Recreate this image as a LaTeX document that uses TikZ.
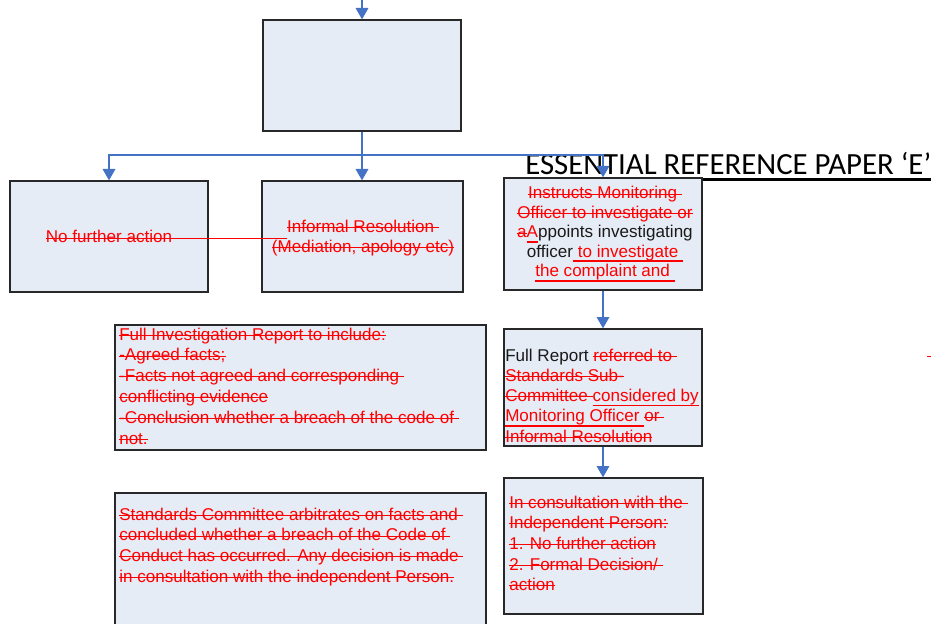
\documentclass[tikz,border=0pt]{standalone}
\usepackage{fontspec}
\setmainfont{Liberation Sans}
\newfontfamily\titlefont{Carlito}
\usetikzlibrary{arrows.meta,calc}
\definecolor{boxfill}{RGB}{230,236,246}
\definecolor{boxline}{RGB}{40,40,40}
\definecolor{connblue}{RGB}{68,114,196}
\definecolor{edred}{RGB}{255,0,0}
\definecolor{inkblack}{RGB}{25,25,25}
\newsavebox\segbox
\newcommand\strk[1]{{\color{edred}\sbox\segbox{#1}\rlap{\rule[0.25em]{\wd\segbox}{0.7pt}}\usebox\segbox}}
\newcommand\ulr[1]{{\color{edred}\sbox\segbox{#1}\rlap{\rule[-0.28em]{\wd\segbox}{1.3pt}}\usebox\segbox}}
\newcommand\tblock[3]{{\fontsize{12.8}{#1}\selectfont\begin{tabular}[t]{@{}#2@{}}#3\end{tabular}}}
\begin{document}
\begin{tikzpicture}[x=0.75pt,y=-0.75pt,
  box/.style={draw=boxline, line width=1pt, fill=boxfill, inner sep=0pt},
  conn/.style={draw=connblue, line width=0.9pt, -{Triangle[width=9.5pt,length=8.5pt]}},
  txt/.style={inner sep=0pt, anchor=base west, text=inkblack},
  ctxt/.style={inner sep=0pt, anchor=base, text=inkblack}]
\useasboundingbox (0,0) rectangle (931,624);
\clip (0,0) rectangle (931,624);

% title
\node[inner sep=0pt, anchor=base west, font=\titlefont\fontsize{23.1}{27}\selectfont] (title) at (525,175) {ESSENTIAL REFERENCE PAPER ‘E’};
\draw[line width=1.6pt] (525,179.5) -- (931,179.5);

% boxes
\node[box, minimum width=198*0.75pt, minimum height=111*0.75pt] (top) at (362,75.5) {};
\node[box, minimum width=198*0.75pt, minimum height=111*0.75pt] (nfa) at (109,236.5) {};
\node[box, minimum width=201*0.75pt, minimum height=111*0.75pt] (inf) at (362.5,236.5) {};
\node[box, minimum width=198*0.75pt, minimum height=112*0.75pt] (ins) at (603,234) {};
\node[box, minimum width=371*0.75pt, minimum height=125*0.75pt] (fir) at (300.5,387.5) {};
\node[box, minimum width=198*0.75pt, minimum height=117*0.75pt] (frp) at (603,387.5) {};
\node[box, minimum width=371*0.75pt, minimum height=147*0.75pt] (std) at (300.5,566.5) {};
\node[box, minimum width=199*0.75pt, minimum height=136*0.75pt] (con) at (603.5,546) {};

% connectors
\coordinate (srcin) at (362,0);
\coordinate (bus) at (362,155);
\draw[conn] (srcin) -- (top.north);
\draw[conn] (top.south) -- (top.south |- inf.north);
\draw[conn] (bus) -| (nfa.north);
\draw[conn] (bus) -| (ins.north);
\draw[conn] (ins.south) -- (frp.north);
\draw[conn] (frp.south) -- (frp.south |- con.north);

% texts
\node[ctxt] (nfatxt) at (109,242) {\fontsize{12.8}{15}\selectfont\textcolor{edred}{No further action}};
\draw[edred, line width=0.7pt] ($(nfatxt.base west)+(0,-4)$) -- (287,238);

\node[ctxt] (inftxt) at (363,232) {\tblock{15}{c}{\strk{Informal Resolution }\\ \strk{(Mediation, apology etc)}}};

\node[ctxt] (instxt) at (605,199) {\tblock{14.6}{c}{\strk{Instructs Monitoring }\\ \strk{Officer to investigate or}\\ \strk{a}\ulr{A}ppoints investigating\\ officer\ulr{ to investigate }\\ \ulr{the complaint and }}};

\node[txt] (firtxt) at (119,340) {\tblock{15.6}{l}{\strk{Full Investigation Report to include:}\\ \strk{-Agreed facts;}\\ \strk{-Facts not agreed and corresponding }\\ \strk{conflicting evidence}\\ \strk{-Conclusion whether a breach of the code of }\\ \strk{not.}}};

\node[txt] (frptxt) at (505,361) {\tblock{15.2}{l}{Full Report \strk{referred to }\\ \strk{Standards Sub-}\\ \strk{Committee }\ulr{considered by}\\ \ulr{Monitoring Officer }\strk{or }\\ \strk{Informal Resolution}}};

\node[txt] (stdtxt) at (119,520) {\tblock{15.6}{l}{\strk{Standards Committee arbitrates on facts and }\\ \strk{concluded whether a breach of the Code of }\\ \strk{Conduct has occurred. Any decision is made }\\ \strk{in consultation with the independent Person.}}};

\node[txt] (context) at (509,508) {\tblock{15.5}{l}{\strk{In consultation with the }\\ \strk{Independent Person:}\\ \strk{1. No further action}\\ \strk{2. Formal Decision/ }\\ \strk{action}}};

\draw[edred, line width=0.7pt] (927,356) -- (931,356);
\end{tikzpicture}
\end{document}
